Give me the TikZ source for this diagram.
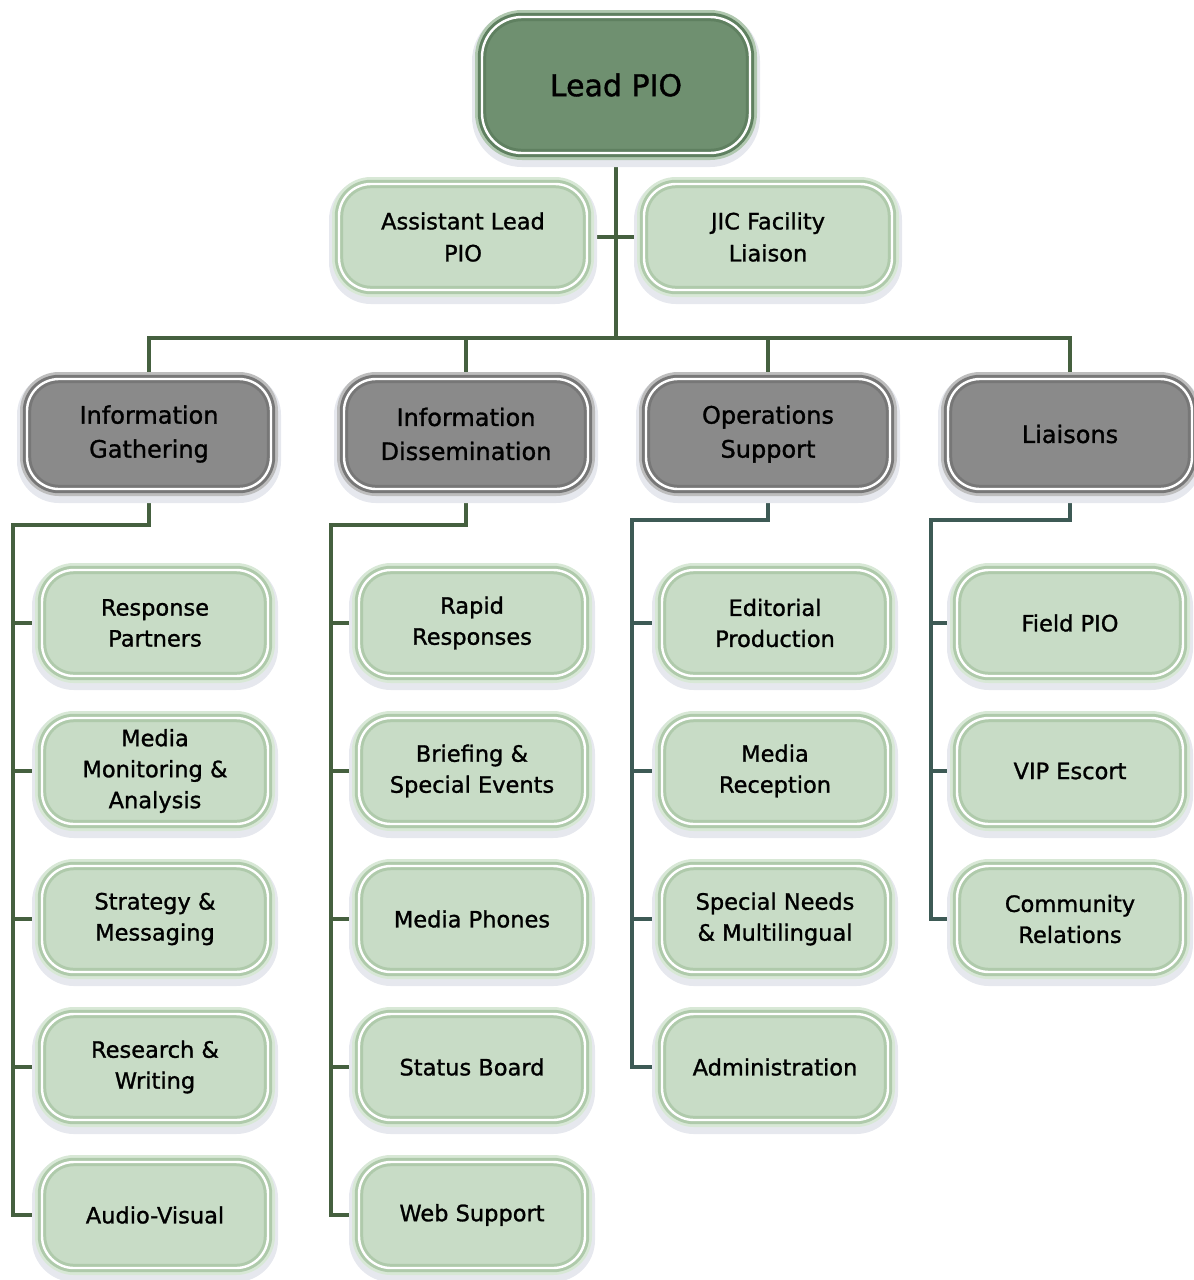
\documentclass[tikz,border=0pt]{standalone}
\usepackage{fontspec}
\setmainfont{DejaVu Sans}[BoldFont={DejaVu Sans},BoldFeatures={FakeBold=1.2}]
\usetikzlibrary{backgrounds}

\definecolor{leadfill}{HTML}{6F9070}
\definecolor{leadband}{HTML}{5F8060}
\definecolor{greyfill}{HTML}{8A8A8A}
\definecolor{greyband}{HTML}{777777}
\definecolor{greyedge}{HTML}{BDBDBD}
\definecolor{unitfill}{HTML}{C8DCC6}
\definecolor{unitband}{HTML}{AFCAAB}
\definecolor{unitedge}{HTML}{D8E8D6}
\definecolor{leadedge}{HTML}{B0C8AF}
\definecolor{haze}{HTML}{E6E8EE}
\definecolor{wiregreen}{HTML}{45603F}
\definecolor{wireteal}{HTML}{3D5A55}

\tikzset{
  x=1pt, y=-1pt,
  card/.style={rounded corners=32pt, align=center, inner sep=0pt,
    line width=3pt, double distance=2.4pt, double=white,
    preaction={draw=haze, line width=20pt, transform canvas={yshift=-4pt}},
    preaction={draw=#1, line width=14pt}},
  leadbox/.style={card=leadedge, draw=leadband, fill=leadfill,
    minimum width=268pt, minimum height=136pt, rounded corners=40pt,
    font=\fontsize{30}{36}\selectfont\bfseries},
  sectionbox/.style={card=greyedge, draw=greyband, fill=greyfill,
    minimum width=244pt, minimum height=110pt,
    font=\fontsize{24}{34}\selectfont\bfseries},
  staffbox/.style={card=unitedge, draw=unitband, fill=unitfill,
    minimum width=248pt, minimum height=106pt,
    font=\fontsize{22.5}{32}\selectfont\bfseries},
  unitbox/.style={card=unitedge, draw=unitband, fill=unitfill,
    minimum width=226pt, minimum height=106pt,
    font=\fontsize{22.5}{31}\selectfont\bfseries},
  wire/.style={draw=#1, line width=4.4pt},
  wire/.default=wiregreen
}

\begin{document}
\begin{tikzpicture}
\useasboundingbox (0,0) rectangle (1194,1280);

% top of the chart
\node[leadbox] (lead) at (616,85) {Lead PIO};
\node[staffbox] (asst) at (463,237) {Assistant Lead\\PIO};
\node[staffbox] (jic) at (768,237) {JIC Facility\\Liaison};

% sections
\node[sectionbox] (gath) at (149,434) {Information\\Gathering};
\node[sectionbox] (diss) at (466,434) {Information\\Dissemination};
\node[sectionbox] (ops)  at (768,434) {Operations\\Support};
\node[sectionbox] (liai) at (1070,434) {Liaisons};

% Information Gathering units
\node[unitbox] (g1) at (155,623)  {Response\\Partners};
\node[unitbox] (g2) at (155,771)  {Media\\Monitoring \&\\Analysis};
\node[unitbox] (g3) at (155,919)  {Strategy \&\\Messaging};
\node[unitbox] (g4) at (155,1067) {Research \&\\Writing};
\node[unitbox] (g5) at (155,1215) {Audio-Visual};

% Information Dissemination units
\node[unitbox] (d1) at (472,623)  {Rapid\\Responses};
\node[unitbox] (d2) at (472,771)  {Briefing \&\\Special Events};
\node[unitbox] (d3) at (472,919)  {Media Phones};
\node[unitbox] (d4) at (472,1067) {Status Board};
\node[unitbox] (d5) at (472,1215) {Web Support};

% Operations Support units
\node[unitbox] (o1) at (775,623)  {Editorial\\Production};
\node[unitbox] (o2) at (775,771)  {Media\\Reception};
\node[unitbox] (o3) at (775,919)  {Special Needs\\\& Multilingual};
\node[unitbox] (o4) at (775,1067) {Administration};

% Liaisons units
\node[unitbox] (l1) at (1070,623) {Field PIO};
\node[unitbox] (l2) at (1070,771) {VIP Escort};
\node[unitbox] (l3) at (1070,919) {Community\\Relations};

\begin{pgfonlayer}{background}
  % trunk and section bus
  \coordinate (bus) at (616,338);
  \draw[wire] (lead.south) -- (bus);
  \draw[wire] (asst.east) -- (jic.west);
  \draw[wire] (gath.north) |- (bus) -| (liai.north);
  \draw[wire] (diss.north) -- (diss.north |- bus);
  \draw[wire] (ops.north) -- (ops.north |- bus);

  % Information Gathering spine
  \coordinate (gs) at (13,525);
  \draw[wire] (gath.south) |- (gs) |- (g5.west);
  \foreach \n in {g1,g2,g3,g4} \draw[wire] (gs |- \n.west) -- (\n.west);

  % Information Dissemination spine
  \coordinate (ds) at (331,525);
  \draw[wire] (diss.south) |- (ds) |- (d5.west);
  \foreach \n in {d1,d2,d3,d4} \draw[wire] (ds |- \n.west) -- (\n.west);

  % Operations Support spine
  \coordinate (os) at (632,520);
  \draw[wire=wireteal] (ops.south) |- (os) |- (o4.west);
  \foreach \n in {o1,o2,o3} \draw[wire=wireteal] (os |- \n.west) -- (\n.west);

  % Liaisons spine
  \coordinate (ls) at (931,520);
  \draw[wire=wireteal] (liai.south) |- (ls) |- (l3.west);
  \foreach \n in {l1,l2} \draw[wire=wireteal] (ls |- \n.west) -- (\n.west);
\end{pgfonlayer}
\end{tikzpicture}
\end{document}
